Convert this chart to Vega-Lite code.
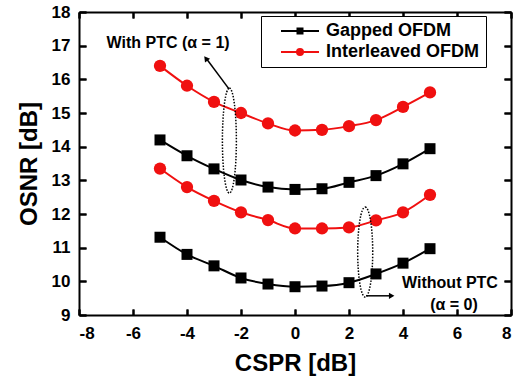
{
  "$schema": "https://vega.github.io/schema/vega-lite/v6.json",
  "width": 432,
  "height": 303,
  "autosize": "none",
  "padding": {"left": 79, "top": 12, "right": 5, "bottom": 64},
  "background": "white",
  "datasets": {
    "curves": [
      {"cspr": -5, "osnr": 14.20, "series": "Gapped OFDM", "ptc": "with"},
      {"cspr": -4, "osnr": 13.73, "series": "Gapped OFDM", "ptc": "with"},
      {"cspr": -3, "osnr": 13.34, "series": "Gapped OFDM", "ptc": "with"},
      {"cspr": -2, "osnr": 13.01, "series": "Gapped OFDM", "ptc": "with"},
      {"cspr": -1, "osnr": 12.80, "series": "Gapped OFDM", "ptc": "with"},
      {"cspr": 0, "osnr": 12.73, "series": "Gapped OFDM", "ptc": "with"},
      {"cspr": 1, "osnr": 12.75, "series": "Gapped OFDM", "ptc": "with"},
      {"cspr": 2, "osnr": 12.94, "series": "Gapped OFDM", "ptc": "with"},
      {"cspr": 3, "osnr": 13.14, "series": "Gapped OFDM", "ptc": "with"},
      {"cspr": 4, "osnr": 13.49, "series": "Gapped OFDM", "ptc": "with"},
      {"cspr": 5, "osnr": 13.94, "series": "Gapped OFDM", "ptc": "with"},
      {"cspr": -5, "osnr": 16.40, "series": "Interleaved OFDM", "ptc": "with"},
      {"cspr": -4, "osnr": 15.81, "series": "Interleaved OFDM", "ptc": "with"},
      {"cspr": -3, "osnr": 15.33, "series": "Interleaved OFDM", "ptc": "with"},
      {"cspr": -2, "osnr": 15.00, "series": "Interleaved OFDM", "ptc": "with"},
      {"cspr": -1, "osnr": 14.69, "series": "Interleaved OFDM", "ptc": "with"},
      {"cspr": 0, "osnr": 14.48, "series": "Interleaved OFDM", "ptc": "with"},
      {"cspr": 1, "osnr": 14.50, "series": "Interleaved OFDM", "ptc": "with"},
      {"cspr": 2, "osnr": 14.61, "series": "Interleaved OFDM", "ptc": "with"},
      {"cspr": 3, "osnr": 14.79, "series": "Interleaved OFDM", "ptc": "with"},
      {"cspr": 4, "osnr": 15.18, "series": "Interleaved OFDM", "ptc": "with"},
      {"cspr": 5, "osnr": 15.61, "series": "Interleaved OFDM", "ptc": "with"},
      {"cspr": -5, "osnr": 11.31, "series": "Gapped OFDM", "ptc": "without"},
      {"cspr": -4, "osnr": 10.80, "series": "Gapped OFDM", "ptc": "without"},
      {"cspr": -3, "osnr": 10.46, "series": "Gapped OFDM", "ptc": "without"},
      {"cspr": -2, "osnr": 10.10, "series": "Gapped OFDM", "ptc": "without"},
      {"cspr": -1, "osnr": 9.92, "series": "Gapped OFDM", "ptc": "without"},
      {"cspr": 0, "osnr": 9.84, "series": "Gapped OFDM", "ptc": "without"},
      {"cspr": 1, "osnr": 9.86, "series": "Gapped OFDM", "ptc": "without"},
      {"cspr": 2, "osnr": 9.96, "series": "Gapped OFDM", "ptc": "without"},
      {"cspr": 3, "osnr": 10.22, "series": "Gapped OFDM", "ptc": "without"},
      {"cspr": 4, "osnr": 10.54, "series": "Gapped OFDM", "ptc": "without"},
      {"cspr": 5, "osnr": 10.97, "series": "Gapped OFDM", "ptc": "without"},
      {"cspr": -5, "osnr": 13.35, "series": "Interleaved OFDM", "ptc": "without"},
      {"cspr": -4, "osnr": 12.80, "series": "Interleaved OFDM", "ptc": "without"},
      {"cspr": -3, "osnr": 12.39, "series": "Interleaved OFDM", "ptc": "without"},
      {"cspr": -2, "osnr": 12.05, "series": "Interleaved OFDM", "ptc": "without"},
      {"cspr": -1, "osnr": 11.82, "series": "Interleaved OFDM", "ptc": "without"},
      {"cspr": 0, "osnr": 11.57, "series": "Interleaved OFDM", "ptc": "without"},
      {"cspr": 1, "osnr": 11.57, "series": "Interleaved OFDM", "ptc": "without"},
      {"cspr": 2, "osnr": 11.60, "series": "Interleaved OFDM", "ptc": "without"},
      {"cspr": 3, "osnr": 11.81, "series": "Interleaved OFDM", "ptc": "without"},
      {"cspr": 4, "osnr": 12.05, "series": "Interleaved OFDM", "ptc": "without"},
      {"cspr": 5, "osnr": 12.57, "series": "Interleaved OFDM", "ptc": "without"}
    ]
  },
  "config": {
    "view": {"stroke": null},
    "axis": {
      "labelFont": "Liberation Sans",
      "labelFontWeight": "bold",
      "labelFontSize": 17,
      "labelColor": "black",
      "titleFont": "Liberation Sans",
      "titleFontWeight": "bold",
      "titleFontSize": 24,
      "titleColor": "black"
    }
  },
  "resolve": {
    "axis": {"x": "independent", "y": "independent"},
    "scale": {"color": "independent", "shape": "independent", "size": "independent"}
  },
  "layer": [
    {
      "data": {"name": "curves"},
      "mark": {"type": "line", "interpolate": "monotone", "strokeWidth": 2},
      "encoding": {
        "x": {"field": "cspr", "type": "quantitative",
              "scale": {"domain": [-8, 8], "nice": false},
              "axis": {"orient": "bottom", "title": "CSPR [dB]", "values": [-8, -6, -4, -2, 0, 2, 4, 6, 8],
                       "grid": true, "gridColor": "black", "gridWidth": 2, "gridOpacity": 1, "gridDash": [6, 291, 6, 500],
                       "domainColor": "black", "domainWidth": 2, "ticks": true, "tickColor": "#000000", "tickOpacity": 1, "tickWidth": 2, "tickSize": -6,
                       "labelExpr": "replace(datum.label, '−', '-')", "labelPadding": 16, "titlePadding": 10}},
        "y": {"field": "osnr", "type": "quantitative",
              "scale": {"domain": [9, 18], "nice": false, "zero": false},
              "axis": {"orient": "left", "title": "OSNR [dB]", "values": [9, 10, 11, 12, 13, 14, 15, 16, 17, 18],
                       "grid": true, "gridColor": "black", "gridWidth": 2, "gridOpacity": 1, "gridDash": [7, 418, 7, 500],
                       "domainColor": "black", "domainWidth": 2, "ticks": true, "tickColor": "#000000", "tickOpacity": 1, "tickWidth": 2, "tickSize": -7,
                       "labelPadding": 16, "titlePadding": 10}},
        "color": {"field": "series", "type": "nominal",
                  "scale": {"domain": ["Gapped OFDM", "Interleaved OFDM"], "range": ["black", "#f01010"]},
                  "legend": null},
        "detail": {"field": "ptc"}
      }
    },
    {
      "data": {"name": "curves"},
      "mark": {"type": "point", "filled": true, "opacity": 1},
      "encoding": {
        "x": {"field": "cspr", "type": "quantitative", "axis": null},
        "y": {"field": "osnr", "type": "quantitative", "axis": null},
        "color": {"field": "series", "type": "nominal",
                  "scale": {"domain": ["Gapped OFDM", "Interleaved OFDM"], "range": ["black", "#f01010"]},
                  "legend": null},
        "shape": {"field": "series", "type": "nominal",
                  "scale": {"domain": ["Gapped OFDM", "Interleaved OFDM"], "range": ["square", "circle"]},
                  "legend": null},
        "size": {"field": "series", "type": "nominal",
                 "scale": {"domain": ["Gapped OFDM", "Interleaved OFDM"], "range": [121, 151]},
                 "legend": null},
        "detail": {"field": "ptc"}
      }
    },
    {
      "data": {"values": [
        {"x": -4.7, "y": 17.08, "label": "With PTC (α = 1)"},
        {"x": 5.74, "y": 9.95, "label": "Without PTC"},
        {"x": 5.89, "y": 9.30, "label": "(α = 0)"}
      ]},
      "mark": {"type": "text", "font": "Liberation Sans", "fontWeight": "bold", "fontSize": 16, "color": "black", "align": "center", "baseline": "middle"},
      "encoding": {
        "x": {"field": "x", "type": "quantitative",
              "axis": {"orient": "top", "labels": false, "title": null, "values": [-8, -6, -4, -2, 0, 2, 4, 6, 8],
                       "grid": false, "domainColor": "black", "domainWidth": 2, "ticks": true, "tickColor": "#000000", "tickOpacity": 1, "tickWidth": 2, "tickSize": -6}},
        "y": {"field": "y", "type": "quantitative",
              "axis": {"orient": "right", "labels": false, "title": null, "values": [9, 10, 11, 12, 13, 14, 15, 16, 17, 18],
                       "grid": false, "domainColor": "black", "domainWidth": 2, "ticks": true, "tickColor": "#000000", "tickOpacity": 1, "tickWidth": 2, "tickSize": -7}},
        "text": {"field": "label"}
      }
    },
    {
      "data": {"values": [{"x": -2.43, "y": 14.18}]},
      "mark": {"type": "point", "shape": "M0,-1A0.133,1 0 0,1 0,1A0.133,1 0 0,1 0,-1", "size": 11025, "filled": false, "stroke": "black", "strokeWidth": 1.5, "strokeDash": [1.5, 1.5], "opacity": 1},
      "encoding": {
        "x": {"field": "x", "type": "quantitative", "axis": null},
        "y": {"field": "y", "type": "quantitative", "axis": null}
      }
    },
    {
      "data": {"values": [{"x": 2.6, "y": 10.87}]},
      "mark": {"type": "point", "shape": "M0,-1A0.167,1 0 0,1 0,1A0.167,1 0 0,1 0,-1", "size": 8100, "filled": false, "stroke": "black", "strokeWidth": 1.5, "strokeDash": [1.5, 1.5], "opacity": 1},
      "encoding": {
        "x": {"field": "x", "type": "quantitative", "axis": null},
        "y": {"field": "y", "type": "quantitative", "axis": null}
      }
    },
    {
      "data": {"values": [
        {"x": -2.44, "y": 15.71, "x2": -3.25, "y2": 16.58},
        {"x": 2.63, "y": 9.57, "x2": 3.52, "y2": 9.57}
      ]},
      "mark": {"type": "rule", "color": "black", "strokeWidth": 1.5},
      "encoding": {
        "x": {"field": "x", "type": "quantitative", "axis": null},
        "y": {"field": "y", "type": "quantitative", "axis": null},
        "x2": {"field": "x2"},
        "y2": {"field": "y2"}
      }
    },
    {
      "data": {"values": [{"x": -3.3, "y": 16.62}]},
      "mark": {"type": "point", "shape": "triangle-up", "angle": 323, "size": 40, "filled": true, "color": "black", "opacity": 1},
      "encoding": {
        "x": {"field": "x", "type": "quantitative", "axis": null},
        "y": {"field": "y", "type": "quantitative", "axis": null}
      }
    },
    {
      "data": {"values": [{"x": 3.58, "y": 9.57}]},
      "mark": {"type": "point", "shape": "triangle-right", "size": 40, "filled": true, "color": "black", "opacity": 1},
      "encoding": {
        "x": {"field": "x", "type": "quantitative", "axis": null},
        "y": {"field": "y", "type": "quantitative", "axis": null}
      }
    },
    {
      "data": {"name": "curves"},
      "mark": {"type": "point", "filled": true, "opacity": 0},
      "encoding": {
        "x": {"field": "cspr", "type": "quantitative", "axis": null},
        "y": {"field": "osnr", "type": "quantitative", "axis": null},
        "color": {"field": "series", "type": "nominal",
                  "scale": {"domain": ["Gapped OFDM", "Interleaved OFDM"], "range": ["black", "#f01010"]},
                  "legend": {
                    "orient": "none", "legendX": 182, "legendY": 4,
                    "title": null,
                    "padding": 6,
                    "strokeColor": "black",
                    "fillColor": "white",
                    "symbolSize": 100,
                    "symbolOpacity": 1,
                    "symbolStrokeWidth": 2,
                    "labelOffset": 41,
                    "rowPadding": 3,
                    "labelFont": "Liberation Sans",
                    "labelFontWeight": "bold",
                    "labelFontSize": 18,
                    "labelColor": "black",
                    "labelLimit": 400,
                    "encode": {
                      "symbols": {
                        "update": {
                          "shape": {"signal": "datum.value === 'Gapped OFDM' ? 'M1,0H8.6M4.3,-0.5H5.3V0.5H4.3Z' : 'M1,0H8.6M4.2,0A0.6,0.6 0 1,0 5.4,0A0.6,0.6 0 1,0 4.2,0Z'"},
                          "fill": {"signal": "datum.value === 'Gapped OFDM' ? 'black' : '#f01010'"},
                          "stroke": {"signal": "datum.value === 'Gapped OFDM' ? 'black' : '#f01010'"},
                          "opacity": {"value": 1},
                          "strokeWidth": {"value": 2}
                        }
                      }
                    }
                  }}
      }
    }
  ]
}
